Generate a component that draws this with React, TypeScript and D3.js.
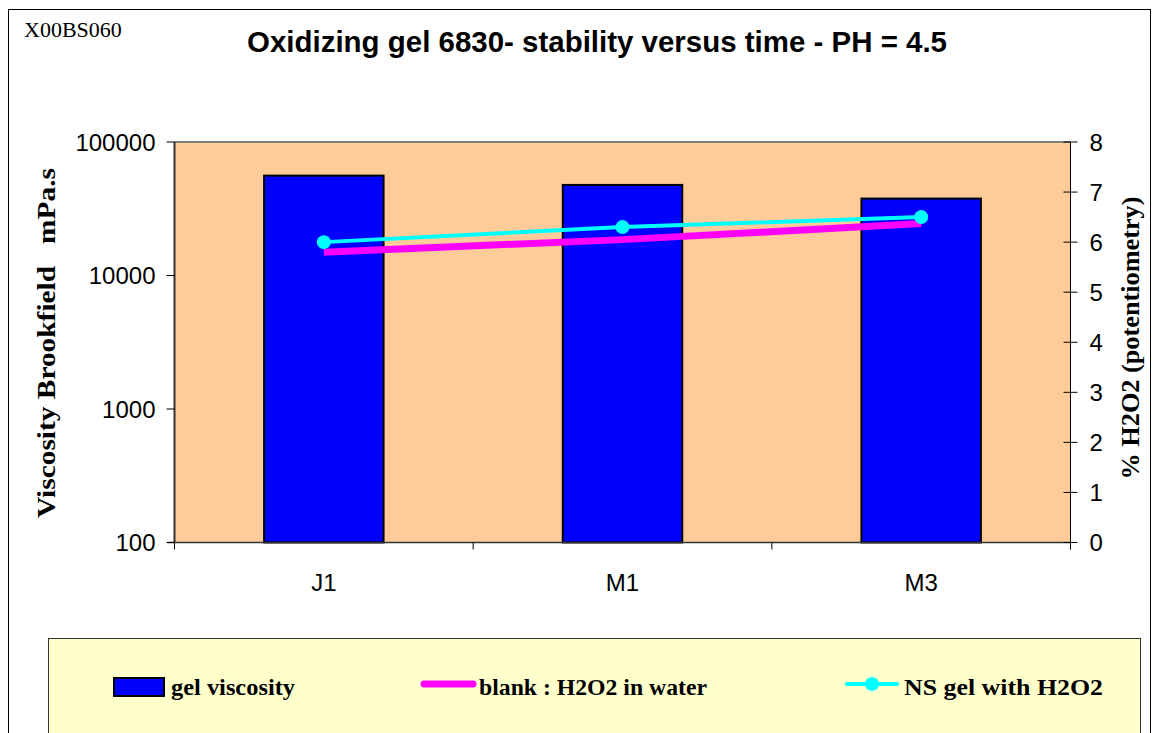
import React from 'react';
import * as d3 from 'd3';

const categories = ['J1', 'M1', 'M3'];
const viscosity = [56000, 47700, 37700];
const blankH2O2 = [5.8, 6.05, 6.37];
const gelH2O2 = [6.0, 6.3, 6.5];
const leftTicks = [100, 1000, 10000, 100000];
const rightTicks = [0, 1, 2, 3, 4, 5, 6, 7, 8];

const W = 1160;
const H = 733;
const plot = { left: 174.5, right: 1070.5, top: 142, bottom: 542.5 };

const serif = '"Liberation Serif", "Times New Roman", serif';
const sans = '"Liberation Sans", Arial, sans-serif';

const App = () => {
  const x = d3.scaleBand<string>()
    .domain(categories)
    .range([plot.left, plot.right])
    .paddingInner(0.6)
    .paddingOuter(0.3);
  const step = x.step();
  const yLeft = d3.scaleLog().domain([100, 100000]).range([plot.bottom, plot.top]);
  const yRight = d3.scaleLinear().domain([0, 8]).range([plot.bottom, plot.top]);

  const lineOf = d3.line<number>()
    .x((_, i) => x(categories[i])! + x.bandwidth() / 2)
    .y(d => yRight(d));

  const boundaries = d3.range(categories.length + 1).map(i => plot.left + i * step);

  return (
    <svg width={W} height={H} style={{ position: 'absolute', left: 0, top: 0, background: '#fff' }}>
      {/* chart frame */}
      <rect x={8.5} y={9.5} width={1142} height={740} fill="#fff" stroke="#000" strokeWidth={1} />
      <text x={24} y={36.5} fontFamily={serif} fontSize={22} fill="#000">X00BS060</text>
      <text x={597} y={52} textAnchor="middle" fontFamily={sans} fontWeight="bold" fontSize={29}
        textLength={700} lengthAdjust="spacingAndGlyphs" fill="#000">
        Oxidizing gel 6830- stability versus time - PH = 4.5
      </text>

      {/* plot area */}
      <rect x={plot.left} y={plot.top} width={plot.right - plot.left} height={plot.bottom - plot.top} fill="#FFCC99" />
      <line x1={plot.left} x2={plot.right} y1={plot.top} y2={plot.top} stroke="#808080" strokeWidth={2} />

      {/* bars */}
      {viscosity.map((v, i) => (
        <rect key={categories[i]} x={x(categories[i])} y={yLeft(v)} width={x.bandwidth()}
          height={plot.bottom - yLeft(v)} fill="#0000FF" stroke="#000" strokeWidth={2} />
      ))}

      {/* axes */}
      <line x1={plot.left} x2={plot.left} y1={plot.top} y2={plot.bottom} stroke="#333" strokeWidth={2} />
      <line x1={plot.right} x2={plot.right} y1={plot.top} y2={plot.bottom + 7} stroke="#000" strokeWidth={1} />
      <line x1={plot.left - 7} x2={plot.right} y1={plot.bottom} y2={plot.bottom} stroke="#333" strokeWidth={1.5} />

      {leftTicks.map(t => (
        <g key={t}>
          <line x1={plot.left - 8} x2={plot.left} y1={yLeft(t)} y2={yLeft(t)} stroke="#000" strokeWidth={1} />
          <text x={plot.left - 19} y={yLeft(t) + 8.5} textAnchor="end" fontFamily={sans} fontSize={24} fill="#000">{t}</text>
        </g>
      ))}
      {rightTicks.map(t => (
        <g key={t}>
          <line x1={plot.right - 7} x2={plot.right + 7} y1={yRight(t)} y2={yRight(t)} stroke="#000" strokeWidth={1} />
          <text x={plot.right + 19} y={yRight(t) + 8.5} fontFamily={sans} fontSize={24} fill="#000">{t}</text>
        </g>
      ))}
      {boundaries.map(b => (
        <line key={b} x1={b} x2={b} y1={plot.bottom} y2={plot.bottom + 7} stroke="#000" strokeWidth={1} />
      ))}
      {categories.map(c => (
        <text key={c} x={x(c)! + x.bandwidth() / 2} y={590.5} textAnchor="middle" fontFamily={sans} fontSize={24} fill="#000">{c}</text>
      ))}

      <text transform={`translate(55,343) rotate(-90)`} textAnchor="middle" fontFamily={serif} fontWeight="bold" fontSize={26}
        textLength={350} lengthAdjust="spacingAndGlyphs" fill="#000">
        {'Viscosity Brookfield \u00a0\u00a0mPa.s'}
      </text>
      <text transform={`translate(1139,338) rotate(-90)`} textAnchor="middle" fontFamily={serif} fontWeight="bold" fontSize={26}
        textLength={283} lengthAdjust="spacingAndGlyphs" fill="#000">
        % H2O2 (potentiometry)
      </text>

      {/* lines */}
      <path d={lineOf(blankH2O2)!} fill="none" stroke="#FF00FF" strokeWidth={7} />
      <path d={lineOf(gelH2O2)!} fill="none" stroke="#00FFFF" strokeWidth={4} />
      {gelH2O2.map((v, i) => (
        <circle key={i} cx={x(categories[i])! + x.bandwidth() / 2} cy={yRight(v)} r={7} fill="#00FFFF" />
      ))}

      {/* legend */}
      <rect x={48.5} y={638.5} width={1092} height={120} fill="#FFFFCC" stroke="#333" strokeWidth={1} />
      <rect x={114} y={678} width={50} height={18} fill="#0000FF" stroke="#000" strokeWidth={2} />
      <text x={171} y={695} fontFamily={serif} fontWeight="bold" fontSize={24}
        textLength={124} lengthAdjust="spacingAndGlyphs" fill="#000">gel viscosity</text>
      <line x1={424} x2={473} y1={684} y2={684} stroke="#FF00FF" strokeWidth={7} strokeLinecap="round" />
      <text x={479} y={695} fontFamily={serif} fontWeight="bold" fontSize={24}
        textLength={228} lengthAdjust="spacingAndGlyphs" fill="#000">blank : H2O2 in water</text>
      <line x1={847} x2={897} y1={684} y2={684} stroke="#00FFFF" strokeWidth={4} strokeLinecap="round" />
      <circle cx={872} cy={684} r={7} fill="#00FFFF" />
      <text x={904} y={695} fontFamily={serif} fontWeight="bold" fontSize={24}
        textLength={199} lengthAdjust="spacingAndGlyphs" fill="#000">NS gel with H2O2</text>
    </svg>
  );
};

export default App;
